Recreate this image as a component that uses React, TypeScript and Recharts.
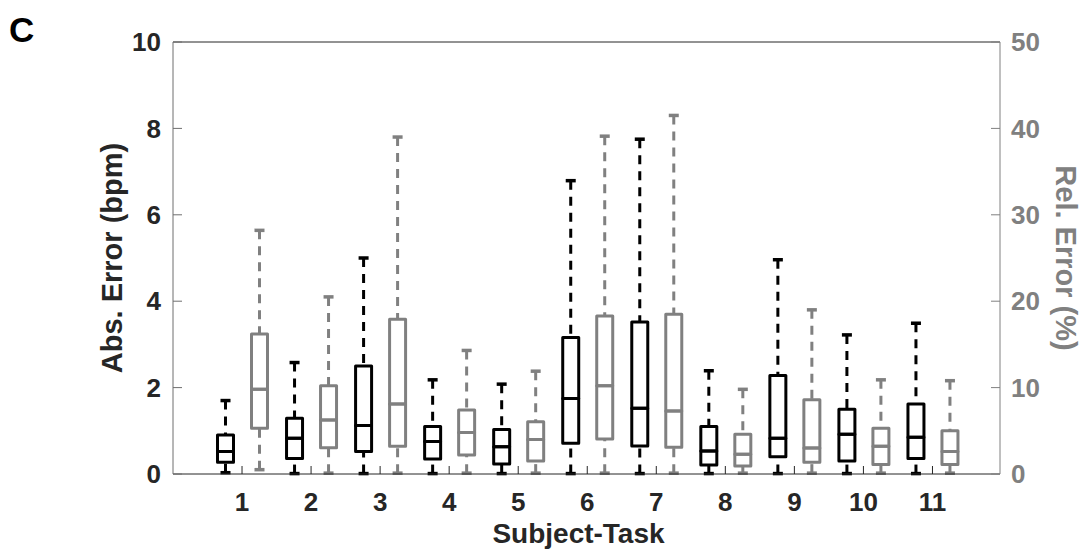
import React from "react";
import { ComposedChart, Bar, XAxis, YAxis, Label } from "recharts";

// subject-task groups
const categories = ["1", "2", "3", "4", "5", "6", "7", "8", "9", "10", "11"];

// absolute error (bpm), left axis
const absMin = [0.03, 0.01, 0.01, 0.01, 0.01, 0.01, 0.01, 0.01, 0.01, 0.01, 0.01];
const absQ1 = [0.27, 0.36, 0.52, 0.35, 0.23, 0.71, 0.65, 0.21, 0.4, 0.3, 0.36];
const absMed = [0.52, 0.83, 1.12, 0.75, 0.63, 1.75, 1.52, 0.53, 0.83, 0.92, 0.85];
const absQ3 = [0.9, 1.29, 2.5, 1.1, 1.03, 3.16, 3.52, 1.1, 2.28, 1.5, 1.62];
const absMax = [1.7, 2.58, 5.0, 2.18, 2.08, 6.79, 7.75, 2.39, 4.96, 3.22, 3.49];

// relative error (%), right axis
const relMin = [0.5, 0.1, 0.1, 0.1, 0.1, 0.1, 0.1, 0.1, 0.1, 0.1, 0.1];
const relQ1 = [5.3, 3.05, 3.2, 2.2, 1.5, 4.05, 3.1, 0.93, 1.35, 1.1, 1.1];
const relMed = [9.8, 6.25, 8.1, 4.8, 4.0, 10.2, 7.3, 2.3, 3.0, 3.2, 2.6];
const relQ3 = [16.2, 10.2, 17.9, 7.4, 6.05, 18.3, 18.5, 4.6, 8.6, 5.3, 5.0];
const relMax = [28.2, 20.5, 39.0, 14.3, 11.9, 39.1, 41.5, 9.8, 19.0, 10.9, 10.8];

const leftTicks = [0, 2, 4, 6, 8, 10];
const rightTicks = [0, 10, 20, 30, 40, 50];

const BLACK = "#000000";
const GRAY = "#808080";
const INK = "#262626";
const FONT = '"Liberation Sans", Arial, sans-serif';

// stacked segments: base (hidden), lower whisker, box lower half, box upper half, upper whisker
const data = categories.map((name, i) => ({
  name,
  aBase: absMin[i],
  aLow: absQ1[i] - absMin[i],
  aBox1: absMed[i] - absQ1[i],
  aBox2: absQ3[i] - absMed[i],
  aHigh: absMax[i] - absQ3[i],
  rBase: relMin[i],
  rLow: relQ1[i] - relMin[i],
  rBox1: relMed[i] - relQ1[i],
  rBox2: relQ3[i] - relMed[i],
  rHigh: relMax[i] - relQ3[i],
}));

const hidden = () => <g />;

const whisker = (color: string, up: boolean) => (props: any) => {
  const { x, y, width, height } = props;
  const cx = x + width / 2;
  const capY = up ? y : y + height;
  const boxY = up ? y + height : y;
  return (
    <g>
      <line x1={cx} x2={cx} y1={capY} y2={boxY} stroke={color} strokeWidth={3} strokeDasharray="9 7" />
      <line x1={cx - 5} x2={cx + 5} y1={capY} y2={capY} stroke={color} strokeWidth={3.5} />
    </g>
  );
};

const boxPart = (color: string) => (props: any) => {
  const { x, y, width, height } = props;
  return (
    <rect
      x={x}
      y={y}
      width={width}
      height={height}
      fill="none"
      stroke={color}
      strokeWidth={3}
      strokeLinejoin="round"
    />
  );
};

const leftTitle = (props: any) => {
  const vb = props.viewBox;
  const cx = 122;
  const cy = vb.y + vb.height / 2;
  return (
    <text
      x={cx}
      y={cy}
      transform={`rotate(-90 ${cx} ${cy})`}
      textAnchor="middle"
      fill={INK}
      fontSize={29}
      fontWeight="bold"
      fontFamily={FONT}
    >
      Abs. Error (bpm)
    </text>
  );
};

const rightTitle = (props: any) => {
  const vb = props.viewBox;
  const cx = 1056;
  const cy = vb.y + vb.height / 2;
  return (
    <text
      x={cx}
      y={cy}
      transform={`rotate(90 ${cx} ${cy})`}
      textAnchor="middle"
      fill={GRAY}
      fontSize={29}
      fontWeight="bold"
      fontFamily={FONT}
    >
      Rel. Error (%)
    </text>
  );
};

const bottomTitle = (props: any) => {
  const vb = props.viewBox;
  return (
    <text
      x={vb.x + vb.width / 2 - 8}
      y={543}
      textAnchor="middle"
      fill={INK}
      fontSize={28}
      fontWeight="bold"
      fontFamily={FONT}
    >
      Subject-Task
    </text>
  );
};

const tickStyle = { fontSize: 26, fontWeight: "bold", fontFamily: FONT } as const;

export default function App() {
  return (
    <div style={{ position: "absolute", left: 0, top: 0, width: 1083, height: 551, background: "#fff" }}>
      <div
        style={{
          position: "absolute",
          left: 9,
          top: 12,
          fontSize: 35,
          lineHeight: "35px",
          fontWeight: "bold",
          fontFamily: FONT,
          color: BLACK,
        }}
      >
        C
      </div>
      <ComposedChart
        width={1083}
        height={551}
        data={data}
        margin={{ top: 0, right: 23, bottom: 0, left: 93 }}
        barSize={16}
        barGap={18}
      >
        <XAxis
          xAxisId="t"
          orientation="top"
          dataKey="name"
          height={42}
          padding={{ left: 34.5, right: 33 }}
          tick={false}
          tickSize={-8}
          axisLine={{ stroke: INK }}
          tickLine={{ stroke: INK }}
        />
        <XAxis
          xAxisId="b"
          dataKey="name"
          height={77}
          padding={{ left: 34.5, right: 33 }}
          interval={0}
          tickSize={-8}
          tickMargin={27}
          axisLine={{ stroke: INK }}
          tickLine={{ stroke: INK }}
          tick={{ ...tickStyle, fill: INK }}
        >
          <Label content={bottomTitle} />
        </XAxis>
        <YAxis
          yAxisId="left"
          domain={[0, 10]}
          ticks={leftTicks}
          width={80}
          tickSize={-9}
          tickMargin={21}
          axisLine={{ stroke: "#6e6e6e" }}
          tickLine={{ stroke: "#6e6e6e" }}
          tick={{ ...tickStyle, fill: INK }}
        >
          <Label content={leftTitle} />
        </YAxis>
        <YAxis
          yAxisId="right"
          orientation="right"
          domain={[0, 50]}
          ticks={rightTicks}
          width={60}
          tickSize={-9}
          tickMargin={20}
          axisLine={{ stroke: GRAY }}
          tickLine={{ stroke: GRAY }}
          tick={{ ...tickStyle, fill: GRAY, textAnchor: "start" }}
        >
          <Label content={rightTitle} />
        </YAxis>

        <Bar xAxisId="b" yAxisId="left" stackId="a" dataKey="aBase" shape={hidden} isAnimationActive={false} />
        <Bar xAxisId="b" yAxisId="left" stackId="a" dataKey="aLow" shape={whisker(BLACK, false)} isAnimationActive={false} />
        <Bar xAxisId="b" yAxisId="left" stackId="a" dataKey="aBox1" shape={boxPart(BLACK)} isAnimationActive={false} />
        <Bar xAxisId="b" yAxisId="left" stackId="a" dataKey="aBox2" shape={boxPart(BLACK)} isAnimationActive={false} />
        <Bar xAxisId="b" yAxisId="left" stackId="a" dataKey="aHigh" shape={whisker(BLACK, true)} isAnimationActive={false} />

        <Bar xAxisId="b" yAxisId="right" stackId="r" dataKey="rBase" shape={hidden} isAnimationActive={false} />
        <Bar xAxisId="b" yAxisId="right" stackId="r" dataKey="rLow" shape={whisker(GRAY, false)} isAnimationActive={false} />
        <Bar xAxisId="b" yAxisId="right" stackId="r" dataKey="rBox1" shape={boxPart(GRAY)} isAnimationActive={false} />
        <Bar xAxisId="b" yAxisId="right" stackId="r" dataKey="rBox2" shape={boxPart(GRAY)} isAnimationActive={false} />
        <Bar xAxisId="b" yAxisId="right" stackId="r" dataKey="rHigh" shape={whisker(GRAY, true)} isAnimationActive={false} />
      </ComposedChart>
    </div>
  );
}
